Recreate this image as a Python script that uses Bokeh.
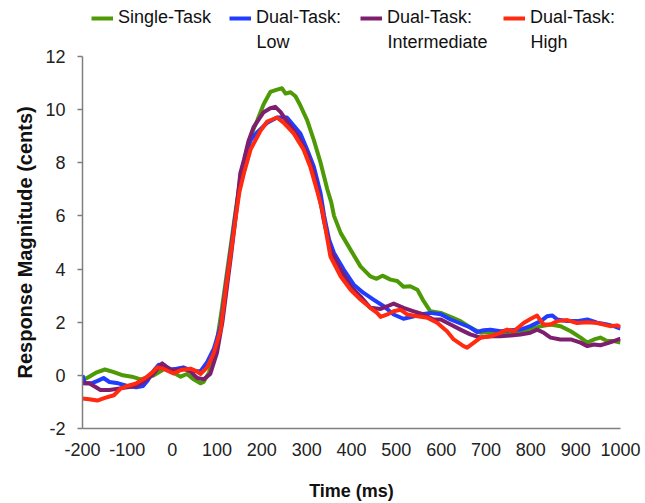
from bokeh.plotting import figure
from bokeh.models import Legend, LegendItem, Range1d, FixedTicker, Label, Title
from bokeh.embed import file_html
from bokeh.resources import INLINE

# ---- data ----
single_t = [-200, -190, -170, -150, -130, -110, -90, -70, -50, -41, -26, -12, 3, 19, 33, 48, 63, 70, 82, 92,
            100, 110, 120, 130, 140, 152, 167, 180, 190, 204, 219, 234, 245, 253, 264, 275, 286, 301, 316, 331,
            346, 355, 361, 376, 398, 420, 442, 456, 469, 487, 502, 516, 531, 547, 561, 576, 599, 621, 643, 665,
            688, 710, 732, 755, 777, 799, 822, 844, 866, 889, 911, 926, 941, 955, 970, 985, 1000]
single_v = [-0.15, -0.1, 0.1, 0.22, 0.12, 0.0, -0.05, -0.15, -0.05, 0.0, 0.15, 0.3, 0.1, -0.05, 0.05, -0.15, -0.3, -0.25, 0.1, 0.6,
            1.3, 2.4, 3.6, 4.8, 6.0, 7.4, 8.5, 9.2, 9.6, 10.2, 10.66, 10.75, 10.8, 10.6, 10.65, 10.5, 10.15, 9.6, 8.85, 8.0,
            7.0, 6.5, 6.0, 5.35, 4.72, 4.1, 3.72, 3.63, 3.75, 3.6, 3.55, 3.33, 3.35, 3.22, 2.79, 2.41, 2.35, 2.2, 2.04, 1.8,
            1.6, 1.63, 1.63, 1.62, 1.66, 1.72, 1.85, 1.91, 1.85, 1.66, 1.42, 1.23, 1.35, 1.42, 1.29, 1.29, 1.23]

low_t = [-200, -195, -180, -165, -153, -140, -120, -100, -80, -65, -55, -40, -30, -20, -4, 10, 25, 40, 55, 63,
         78, 93, 108, 120, 130, 140, 152, 165, 175, 190, 212, 234, 256, 271, 286, 301, 316, 331, 339, 350,
         361, 383, 405, 427, 449, 472, 494, 516, 535, 554, 576, 599, 621, 643, 665, 680, 695, 710, 732, 755,
         777, 799, 822, 836, 848, 859, 881, 903, 926, 948, 970, 985, 1000]
low_v = [0.0, -0.3, -0.3, -0.2, -0.1, -0.25, -0.3, -0.4, -0.45, -0.4, -0.2, 0.2, 0.4, 0.4, 0.22, 0.25, 0.3, 0.2, 0.15, 0.15,
         0.5, 1.0, 1.85, 3.4, 4.6, 5.9, 7.3, 8.3, 8.85, 9.15, 9.5, 9.7, 9.7, 9.4, 9.1, 8.5, 7.85, 6.85, 6.0, 5.1,
         4.6, 3.97, 3.41, 3.1, 2.85, 2.6, 2.29, 2.13, 2.2, 2.29, 2.35, 2.3, 2.1, 1.95, 1.8, 1.63, 1.7, 1.72, 1.66, 1.7,
         1.72, 1.85, 2.04, 2.22, 2.25, 2.1, 2.04, 2.04, 2.1, 1.98, 1.91, 1.85, 1.76]

inter_t = [-200, -185, -170, -160, -140, -120, -100, -80, -65, -45, -30, -22, -12, 0, 15, 25, 40, 56, 70, 85,
           100, 112, 122, 132, 142, 152, 160, 170, 182, 204, 219, 230, 242, 256, 279, 301, 316, 331, 338, 353,
           376, 398, 420, 442, 465, 480, 494, 516, 539, 561, 583, 599, 621, 643, 665, 688, 710, 732, 755, 777,
           799, 814, 829, 844, 866, 889, 911, 926, 941, 955, 970, 985, 1000]
inter_v = [-0.3, -0.3, -0.45, -0.55, -0.55, -0.5, -0.45, -0.4, -0.25, 0.0, 0.3, 0.45, 0.3, 0.2, 0.2, 0.25, 0.15, -0.1, -0.15, 0.05,
           0.85, 2.0, 3.3, 4.6, 6.0, 7.6, 8.1, 8.8, 9.35, 9.9, 10.05, 10.1, 9.9, 9.55, 9.04, 8.35, 7.6, 6.5, 5.85, 4.72,
           3.97, 3.35, 2.97, 2.54, 2.5, 2.6, 2.7, 2.54, 2.41, 2.29, 2.1, 2.1, 1.91, 1.72, 1.54, 1.42, 1.47, 1.47, 1.5, 1.54,
           1.6, 1.72, 1.6, 1.42, 1.35, 1.35, 1.23, 1.1, 1.16, 1.13, 1.2, 1.29, 1.38]

high_t = [-200, -185, -167, -150, -130, -115, -100, -80, -60, -45, -33, -20, 3, 20, 41, 55, 63, 78, 93, 108,
          120, 130, 141, 150, 160, 175, 197, 212, 234, 249, 271, 293, 308, 324, 335, 353, 376, 398, 420, 442,
          457, 465, 480, 494, 509, 524, 547, 569, 591, 613, 628, 650, 658, 673, 688, 710, 732, 747, 762, 784,
          799, 814, 820, 829, 844, 859, 881, 903, 926, 948, 977, 992, 1000]
high_v = [-0.87, -0.9, -0.95, -0.85, -0.75, -0.5, -0.4, -0.3, -0.1, 0.1, 0.3, 0.25, 0.07, 0.2, 0.25, 0.15, 0.05, 0.3, 0.85, 1.7,
          3.3, 4.5, 5.85, 6.9, 7.6, 8.5, 9.2, 9.55, 9.7, 9.5, 9.1, 8.5, 7.85, 6.9, 6.2, 4.47, 3.72, 3.22, 2.85, 2.54,
          2.35, 2.2, 2.29, 2.41, 2.47, 2.29, 2.22, 2.17, 1.98, 1.66, 1.35, 1.1, 1.04, 1.23, 1.42, 1.47, 1.6, 1.72, 1.66, 1.97,
          2.12, 2.25, 2.1, 1.91, 1.91, 2.04, 2.08, 1.97, 2.0, 1.97, 1.85, 1.88, 1.82]

names_line1 = ["Single-Task", "Dual-Task:", "Dual-Task:", "Dual-Task:"]
names_line2 = ["", "Low", "Intermediate", "High"]
colors = ["#4E9A06", "#1F3CFF", "#7E1E6E", "#FF2A0F"]
x_ticks = [-200, -100, 0, 100, 200, 300, 400, 500, 600, 700, 800, 900, 1000]
y_ticks = [-2, 0, 2, 4, 6, 8, 10, 12]

FONT = "Liberation Sans"

# layout (screen px)
FRAME_W = 538
FRAME_H = 429                        # frame spans the top legend band too
PX_PER_UNIT = 373 / 14.0             # axis part: -2..12 over 373 px
Y_TOP = 12 + 56 / PX_PER_UNIT        # extra band above 12 for the legend
LEG_X = [9, 147, 278, 421]           # legend swatch offsets from frame left
TEXT_OFFSET = 27                     # swatch width + standoff
ROW2_PX = 42                         # centre of second legend line from top

p = figure(width=645, height=503, output_backend="svg", toolbar_location=None,
           x_range=Range1d(-200, 1000), y_range=Range1d(-2, Y_TOP),
           min_border_left=82, min_border_right=25, min_border_top=0, min_border_bottom=74)
p.outline_line_color = None
p.grid.grid_line_color = None
p.background_fill_color = "white"

renderers = []
for t, v, c in zip([single_t, low_t, inter_t, high_t], [single_v, low_v, inter_v, high_v], colors):
    r = p.line(t, v, line_color=c, line_width=4, line_join="round")
    renderers.append(r)

# axes
p.xaxis.ticker = FixedTicker(ticks=x_ticks)
p.yaxis.ticker = FixedTicker(ticks=y_ticks)
p.yaxis.bounds = (-2, 12)
p.xaxis.major_label_overrides = {t: str(t) for t in x_ticks}
p.yaxis.major_label_overrides = {t: str(t) for t in y_ticks}
for ax in (p.xaxis[0], p.yaxis[0]):
    ax.axis_line_color = "#7f7f7f"
    ax.axis_line_width = 1.5
    ax.major_tick_line_color = "#7f7f7f"
    ax.major_tick_line_width = 1.5
    ax.minor_tick_line_color = None
    ax.major_label_text_font = FONT
    ax.major_label_text_font_size = "18px"
    ax.major_label_text_color = "#222222"
    ax.axis_label_text_font = FONT
    ax.axis_label_text_font_style = "bold"
    ax.axis_label_text_font_size = "18px"
    ax.axis_label_text_color = "#111111"
p.xaxis.major_tick_out = 0
p.xaxis.major_tick_in = 0
p.xaxis.major_label_standoff = 14
p.xaxis.axis_label = "Time (ms)"
p.xaxis.axis_label_standoff = 22
p.yaxis.major_tick_out = 5
p.yaxis.major_tick_in = 0
p.yaxis.major_label_standoff = 12

# y-axis title, centred on the -2..12 part of the axis (not on the legend band)
ytitle = Title(text="Response Magnitude (cents)", align="left", offset=50, standoff=14,
               text_font=FONT, text_font_style="bold", text_font_size="20px", text_color="#111111")
p.add_layout(ytitle, "left")

# legend: one small legend per series (first line), plus a label for the second line
x0, x1 = -200, 1000
y_row2 = Y_TOP - ROW2_PX / PX_PER_UNIT
for name1, name2, r, lx in zip(names_line1, names_line2, renderers, LEG_X):
    lg = Legend(items=[LegendItem(label=name1, renderers=[r])], location=(lx, FRAME_H - 29),
                label_text_font=FONT, label_text_font_size="18px", label_text_color="#111111",
                label_height=21, glyph_width=22, glyph_height=16, label_standoff=5,
                padding=0, margin=0, border_line_color=None, background_fill_alpha=0)
    p.add_layout(lg, "center")
    if name2:
        xd = x0 + (lx + TEXT_OFFSET) * (x1 - x0) / FRAME_W
        p.add_layout(Label(x=xd, y=y_row2, text=name2, text_font=FONT, text_font_size="18px",
                           text_color="#111111", text_baseline="middle", text_align="left"))

open("out.html", "w").write(file_html(p, INLINE))
